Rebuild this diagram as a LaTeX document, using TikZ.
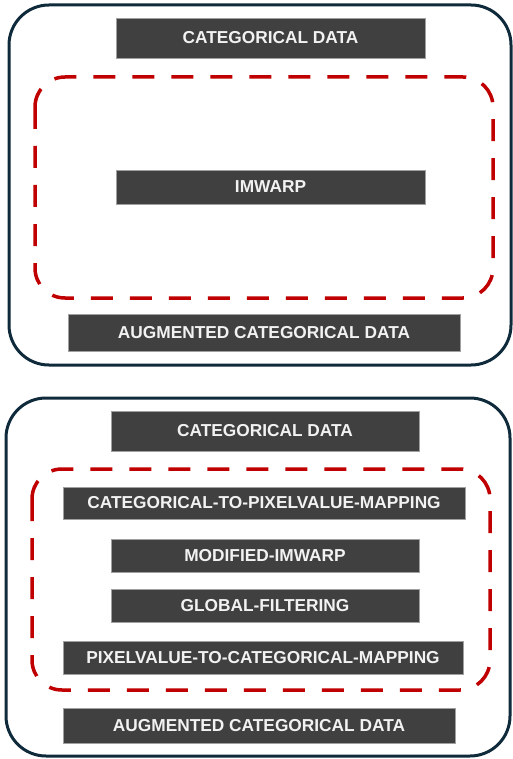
\documentclass[tikz,border=0pt]{standalone}
\usepackage{fontspec}
\setmainfont{Liberation Sans}
\begin{document}
\begin{tikzpicture}[x=1pt,y=-1pt,
  outer/.style={draw=outline, line width=3pt, rounded corners=40pt},
  group/.style={draw=dashred, line width=3.5pt, rounded corners=30pt, dash pattern=on 22pt off 17pt},
  stepbox/.style={draw=boxedge, line width=0.8pt, fill=boxfill, text=white!95!black, font=\fontsize{17.3}{19}\selectfont\bfseries, inner sep=0pt}]
\definecolor{outline}{HTML}{0F2A3A}
\definecolor{dashred}{HTML}{C00000}
\definecolor{boxfill}{HTML}{404040}
\definecolor{boxedge}{HTML}{A0A0A0}
\useasboundingbox (0,0) rectangle (513,759);
% top panel
\draw[outer] (9,5) rectangle (511,365);
\draw[group] (35,77) rectangle (493,298);
\node[stepbox, minimum width=309pt, minimum height=40pt] (t1) at (270.5,38) {CATEGORICAL DATA};
\node[stepbox, minimum width=309pt, minimum height=34pt] (t2) at (270.5,187) {IMWARP};
\node[stepbox, minimum width=392pt, minimum height=37pt] (t3) at (264,332.5) {AUGMENTED CATEGORICAL DATA};
% bottom panel
\draw[outer] (6,398) rectangle (510,756);
\draw[group] (32,469) rectangle (490,690);
\node[stepbox, minimum width=308pt, minimum height=40pt] (b1) at (265,431) {CATEGORICAL DATA};
\node[stepbox, minimum width=402pt, minimum height=32pt] (b2) at (264,503) {CATEGORICAL-TO-PIXELVALUE-MAPPING};
\node[stepbox, minimum width=308pt, minimum height=33pt] (b3) at (265,555.5) {MODIFIED-IMWARP};
\node[stepbox, minimum width=308pt, minimum height=33pt] (b4) at (265,605.5) {GLOBAL-FILTERING};
\node[stepbox, minimum width=400pt, minimum height=33pt] (b5) at (263,657.5) {PIXELVALUE-TO-CATEGORICAL-MAPPING};
\node[stepbox, minimum width=392pt, minimum height=35pt] (b6) at (259,725.5) {AUGMENTED CATEGORICAL DATA};
\end{tikzpicture}
\end{document}
